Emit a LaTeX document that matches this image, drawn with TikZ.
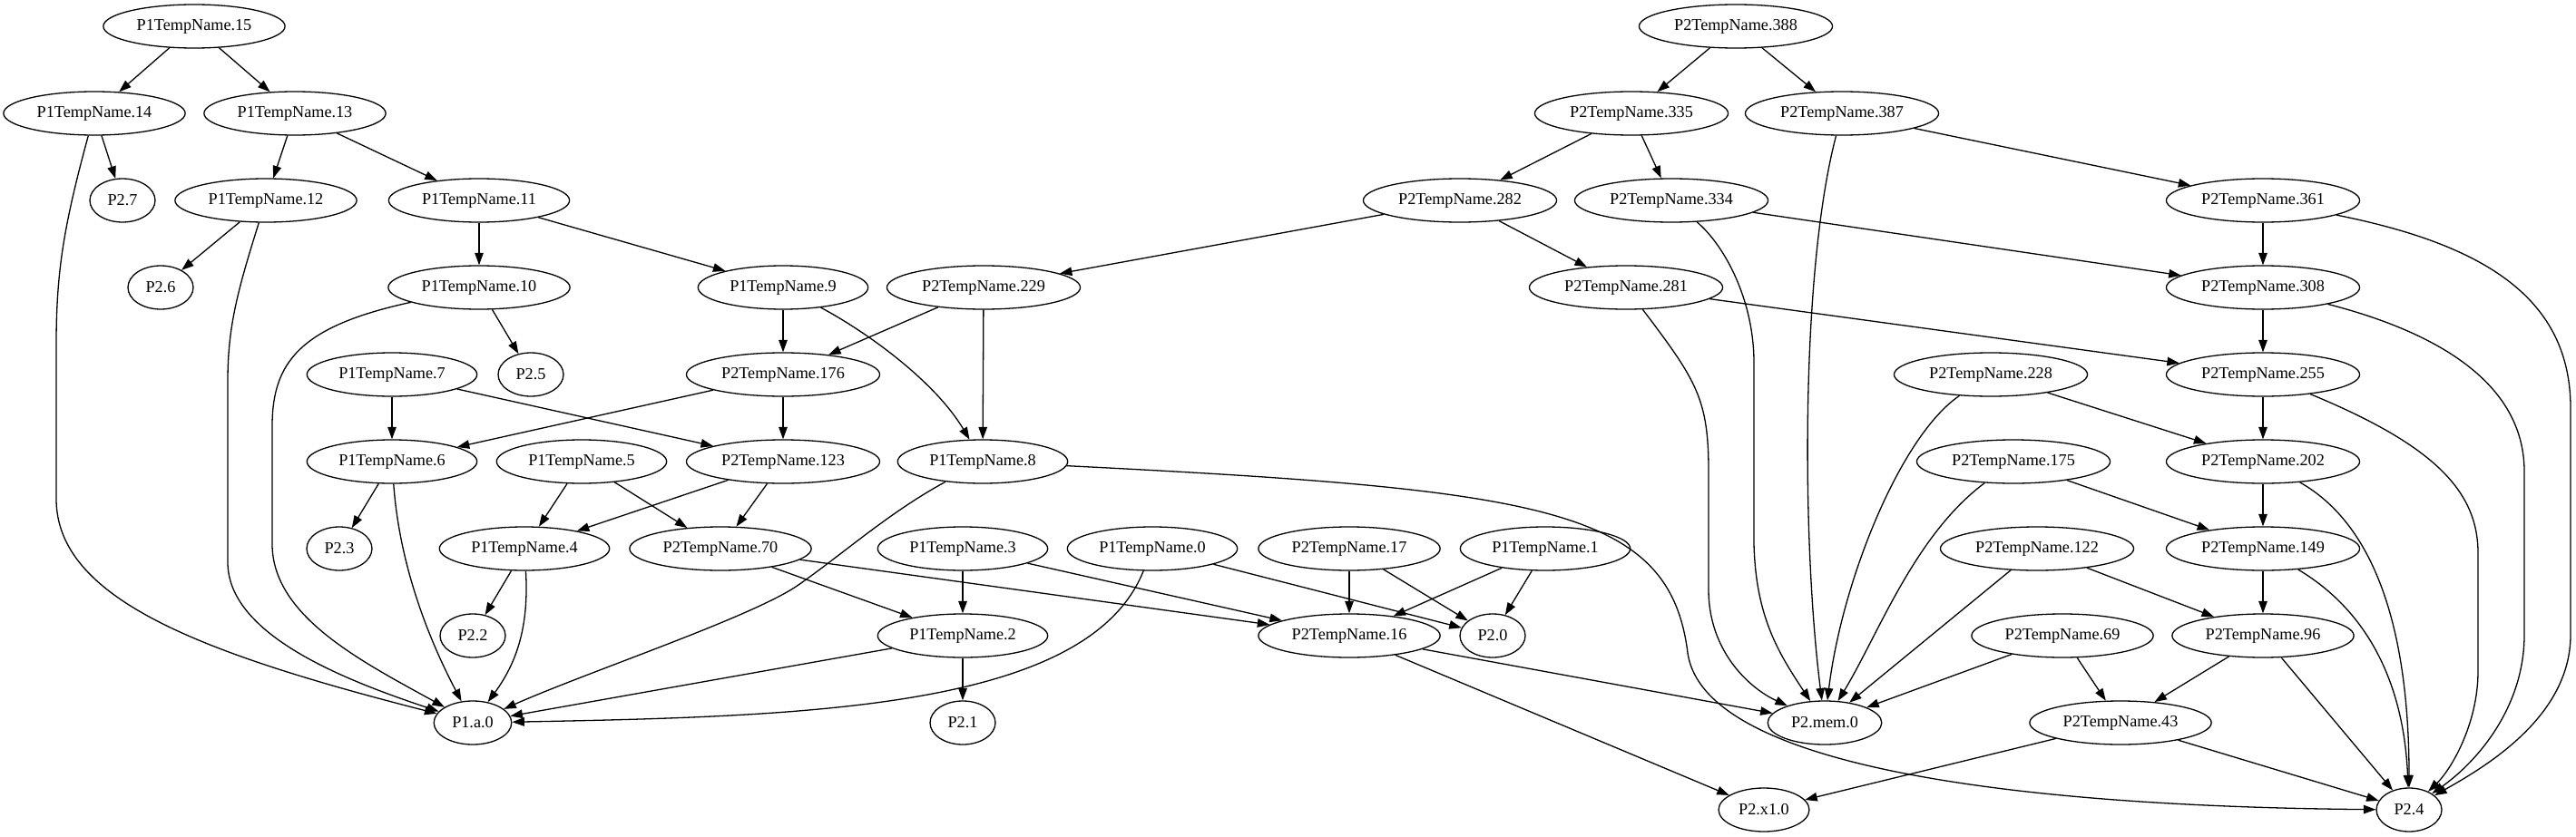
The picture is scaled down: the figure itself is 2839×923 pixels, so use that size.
\documentclass[tikz,border=0pt]{standalone}
\usepackage{fontspec}
\setmainfont{Liberation Serif}
\usetikzlibrary{shapes.geometric, arrows.meta}

\begin{document}
\begin{tikzpicture}[
  x=1pt, y=-1pt,
  vnode/.style={draw, ellipse, line width=1.3pt, inner xsep=7.5pt, inner ysep=2pt, minimum width=72pt, minimum height=48pt, font=\fontsize{18.2}{20}\selectfont},
  dep/.style={line width=1.3pt, -{Triangle[length=13.5pt, width=9.5pt]}}
]
  \useasboundingbox (0,0) rectangle (2839,923);

  % left part
  \node[vnode] (t15) at (214,29) {P1TempName.15};
  \node[vnode] (t14) at (104,125) {P1TempName.14};
  \node[vnode] (t13) at (325,125) {P1TempName.13};
  \node[vnode] (p27) at (135,221) {P2.7};
  \node[vnode] (t12) at (293,221) {P1TempName.12};
  \node[vnode] (t11) at (528,221) {P1TempName.11};
  \node[vnode] (p26) at (177,317) {P2.6};
  \node[vnode] (t10) at (528,317) {P1TempName.10};
  \node[vnode] (t9) at (863,317) {P1TempName.9};
  \node[vnode] (s229) at (1084,317) {P2TempName.229};
  \node[vnode] (t7) at (432,413) {P1TempName.7};
  \node[vnode] (p25) at (585,413) {P2.5};
  \node[vnode] (s176) at (863,413) {P2TempName.176};
  \node[vnode] (t6) at (432,509) {P1TempName.6};
  \node[vnode] (t5) at (641,509) {P1TempName.5};
  \node[vnode] (s123) at (863,509) {P2TempName.123};
  \node[vnode] (t8) at (1083,509) {P1TempName.8};
  \node[vnode] (p23) at (374,605) {P2.3};
  \node[vnode] (t4) at (578,605) {P1TempName.4};
  \node[vnode] (s70) at (794,605) {P2TempName.70};
  \node[vnode] (t3) at (1061,605) {P1TempName.3};
  \node[vnode] (t0) at (1270,605) {P1TempName.0};
  \node[vnode] (s17) at (1487,605) {P2TempName.17};
  \node[vnode] (t1) at (1703,605) {P1TempName.1};
  \node[vnode] (p22) at (521,701) {P2.2};
  \node[vnode] (t2) at (1061,701) {P1TempName.2};
  \node[vnode] (s16) at (1487,701) {P2TempName.16};
  \node[vnode] (p20) at (1645,701) {P2.0};
  \node[vnode] (a0) at (521,797) {P1.a.0};
  \node[vnode] (p21) at (1061,797) {P2.1};

  % right part
  \node[vnode] (s388) at (1913,29) {P2TempName.388};
  \node[vnode] (s335) at (1798,125) {P2TempName.335};
  \node[vnode] (s387) at (2030,125) {P2TempName.387};
  \node[vnode] (s282) at (1609,221) {P2TempName.282};
  \node[vnode] (s334) at (1842,221) {P2TempName.334};
  \node[vnode] (s361) at (2494,221) {P2TempName.361};
  \node[vnode] (s281) at (1792,317) {P2TempName.281};
  \node[vnode] (s308) at (2494,317) {P2TempName.308};
  \node[vnode] (s228) at (2194,413) {P2TempName.228};
  \node[vnode] (s255) at (2494,413) {P2TempName.255};
  \node[vnode] (s175) at (2219,509) {P2TempName.175};
  \node[vnode] (s202) at (2494,509) {P2TempName.202};
  \node[vnode] (s122) at (2245,605) {P2TempName.122};
  \node[vnode] (s149) at (2494,605) {P2TempName.149};
  \node[vnode] (s69) at (2273,701) {P2TempName.69};
  \node[vnode] (s96) at (2494,701) {P2TempName.96};
  \node[vnode] (s43) at (2337,797) {P2TempName.43};
  \node[vnode] (mem0) at (2011,797) {P2.mem.0};
  \node[vnode] (xone) at (1944,893) {P2.x1.0};
  \node[vnode] (p24) at (2655,893) {P2.4};

  % edges, left part
  \draw[dep] (t15) -- (t14);
  \draw[dep] (t15) -- (t13);
  \draw[dep] (t14) -- (p27);
  \draw[dep] (t14) .. controls (70,250) and (62,300) .. (62,380) -- (62,550) .. controls (62,660) and (220,720) .. (a0);
  \draw[dep] (t13) -- (t12);
  \draw[dep] (t13) -- (t11);
  \draw[dep] (t12) -- (p26);
  \draw[dep] (t12) .. controls (262,320) and (251,360) .. (251,420) -- (251,620) .. controls (251,700) and (380,750) .. (a0);
  \draw[dep] (t11) -- (t10);
  \draw[dep] (t11) -- (t9);
  \draw[dep] (t10) -- (p25);
  \draw[dep] (t10) .. controls (330,360) and (300,400) .. (300,470) -- (300,600) .. controls (300,680) and (400,730) .. (a0);
  \draw[dep] (t9) -- (s176);
  \draw[dep] (t9) .. controls (955,366) and (1030,420) .. (t8);
  \draw[dep] (s229) -- (s176);
  \draw[dep] (s229) -- (t8);
  \draw[dep] (t7) -- (t6);
  \draw[dep] (t7) -- (s123);
  \draw[dep] (s176) -- (t6);
  \draw[dep] (s176) -- (s123);
  \draw[dep] (t6) -- (p23);
  \draw[dep] (t6) .. controls (440,620) and (470,700) .. (a0);
  \draw[dep] (t5) -- (t4);
  \draw[dep] (t5) -- (s70);
  \draw[dep] (s123) -- (t4);
  \draw[dep] (s123) -- (s70);
  \draw[dep] (t8) .. controls (980,565) and (930,610) .. (880,645) .. controls (830,680) and (650,740) .. (a0);
  \draw[dep] (t8) .. controls (1700,540) and (1840,560) .. (1860,720) .. controls (1880,860) and (2300,890) .. (p24);
  \draw[dep] (t4) -- (p22);
  \draw[dep] (t4) .. controls (583,690) and (570,730) .. (a0);
  \draw[dep] (s70) -- (t2);
  \draw[dep] (s70) -- (s16);
  \draw[dep] (t3) -- (t2);
  \draw[dep] (t3) -- (s16);
  \draw[dep] (t0) .. controls (1200,780) and (900,790) .. (a0);
  \draw[dep] (t0) -- (p20);
  \draw[dep] (s17) -- (s16);
  \draw[dep] (s17) -- (p20);
  \draw[dep] (t1) -- (s16);
  \draw[dep] (t1) -- (p20);
  \draw[dep] (t2) -- (a0);
  \draw[dep] (t2) -- (p21);
  \draw[dep] (s16) -- (mem0);
  \draw[dep] (s16) -- (xone);

  % edges, right part
  \draw[dep] (s388) -- (s335);
  \draw[dep] (s388) -- (s387);
  \draw[dep] (s335) -- (s282);
  \draw[dep] (s335) -- (s334);
  \draw[dep] (s387) .. controls (1984,300) and (1986,600) .. (mem0);
  \draw[dep] (s387) -- (s361);
  \draw[dep] (s282) -- (s229);
  \draw[dep] (s282) -- (s281);
  \draw[dep] (s334) .. controls (1900,270) and (1933,330) .. (1933,400) -- (1933,600) .. controls (1935,680) and (1960,720) .. (mem0);
  \draw[dep] (s334) -- (s308);
  \draw[dep] (s361) -- (s308);
  \draw[dep] (s361) .. controls (2740,270) and (2833,330) .. (2833,450) -- (2833,700) .. controls (2833,790) and (2740,845) .. (p24);
  \draw[dep] (s281) .. controls (1870,420) and (1883,440) .. (1883,520) -- (1883,650) .. controls (1883,720) and (1930,760) .. (mem0);
  \draw[dep] (s281) -- (s255);
  \draw[dep] (s308) -- (s255);
  \draw[dep] (s308) .. controls (2700,370) and (2782,430) .. (2782,520) -- (2782,700) .. controls (2782,780) and (2730,840) .. (p24);
  \draw[dep] (s228) .. controls (2095,480) and (2030,640) .. (mem0);
  \draw[dep] (s228) -- (s202);
  \draw[dep] (s255) -- (s202);
  \draw[dep] (s255) .. controls (2680,490) and (2731,540) .. (2731,610) -- (2731,740) .. controls (2731,800) and (2700,850) .. (p24);
  \draw[dep] (s175) .. controls (2110,590) and (2070,700) .. (mem0);
  \draw[dep] (s175) -- (s149);
  \draw[dep] (s202) -- (s149);
  \draw[dep] (s202) .. controls (2620,580) and (2655,700) .. (p24);
  \draw[dep] (s122) -- (mem0);
  \draw[dep] (s122) -- (s96);
  \draw[dep] (s149) -- (s96);
  \draw[dep] (s149) .. controls (2620,680) and (2650,770) .. (p24);
  \draw[dep] (s69) -- (mem0);
  \draw[dep] (s69) -- (s43);
  \draw[dep] (s96) -- (s43);
  \draw[dep] (s96) -- (p24);
  \draw[dep] (s43) -- (xone);
  \draw[dep] (s43) -- (p24);
\end{tikzpicture}
\end{document}
